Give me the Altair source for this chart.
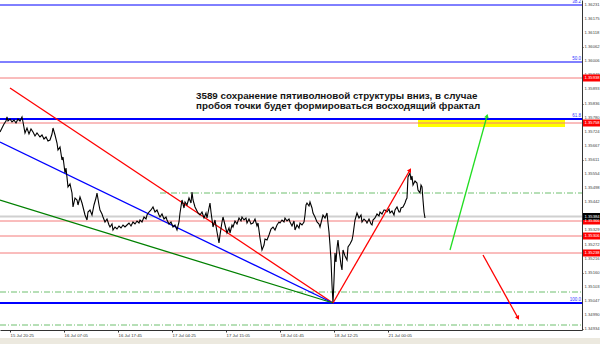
import altair as alt
import pandas as pd

# ---- price series (bar index, close) ----
bar = [0, 2, 4, 6, 7, 8, 10, 12, 14, 16, 18, 20, 22, 23, 25, 27, 29, 31, 33, 35, 37, 40, 42, 44, 46, 48, 50,
       52, 53, 55, 57, 58, 60, 62, 63, 65, 66, 68, 70, 72, 73, 75, 77, 78, 80, 82, 83, 85, 87, 88, 90, 92, 94,
       96, 97, 99, 100, 102, 103, 105, 107, 109, 110, 112, 113, 115, 117, 119, 121, 123, 125, 127, 129, 131,
       133, 135, 137, 139, 140, 142, 144, 146, 147, 149, 151, 153, 155, 157, 159, 160, 162, 164, 166, 167, 169,
       171, 173, 175, 177, 179, 180, 182, 184, 185, 187, 189, 191, 192, 193, 195, 197, 198, 200, 202, 204, 206,
       207, 209, 210, 211, 213, 215, 217, 219, 220, 222, 223, 225, 227, 229, 230, 232, 233, 235, 237, 239, 241,
       242, 244, 246, 247, 249, 251, 253, 255, 257, 258, 260, 262, 264, 265, 267, 269, 271, 273, 275, 277, 279,
       280, 282, 284, 285, 287, 289, 290, 292, 294, 295, 297, 299, 300, 302, 304, 305, 306, 307, 309, 310, 312,
       313, 315, 317, 319, 320, 322, 323, 325, 327, 328, 329, 330, 331, 332, 333, 334, 335, 336, 337, 338, 339,
       340, 341, 342, 343, 345, 347, 348, 350, 352, 353, 355, 357, 359, 361, 362, 364, 366, 367, 369, 371, 372,
       373, 375, 377, 379, 380, 382, 384, 385, 387, 389, 390, 392, 394, 395, 397, 399, 400, 401, 403, 405, 406,
       407, 408, 410, 411, 412, 413, 415, 417, 418, 420, 421, 422, 423, 424, 425]
close = [1.35722, 1.35738, 1.35754, 1.35766, 1.35782, 1.35766, 1.35774, 1.35762, 1.35770, 1.35758, 1.35774,
         1.35766, 1.35782, 1.35762, 1.35718, 1.35738, 1.35714, 1.35734, 1.35722, 1.35706, 1.35718, 1.35702,
         1.35710, 1.35694, 1.35702, 1.35686, 1.35690, 1.35714, 1.35738, 1.35710, 1.35678, 1.35650, 1.35662,
         1.35610, 1.35622, 1.35558, 1.35578, 1.35502, 1.35514, 1.35478, 1.35422, 1.35458, 1.35450, 1.35430,
         1.35462, 1.35438, 1.35422, 1.35390, 1.35370, 1.35402, 1.35410, 1.35390, 1.35430, 1.35458, 1.35478,
         1.35430, 1.35410, 1.35394, 1.35382, 1.35362, 1.35374, 1.35350, 1.35342, 1.35354, 1.35330, 1.35342,
         1.35334, 1.35346, 1.35338, 1.35350, 1.35342, 1.35350, 1.35358, 1.35346, 1.35362, 1.35354, 1.35366,
         1.35358, 1.35370, 1.35362, 1.35382, 1.35374, 1.35390, 1.35402, 1.35410, 1.35422, 1.35402, 1.35410,
         1.35390, 1.35382, 1.35394, 1.35374, 1.35382, 1.35370, 1.35354, 1.35362, 1.35342, 1.35350, 1.35330,
         1.35362, 1.35398, 1.35450, 1.35418, 1.35442, 1.35430, 1.35458, 1.35438, 1.35482, 1.35450, 1.35422,
         1.35406, 1.35398, 1.35390, 1.35402, 1.35378, 1.35398, 1.35378, 1.35418, 1.35438, 1.35402, 1.35342,
         1.35370, 1.35322, 1.35278, 1.35310, 1.35362, 1.35382, 1.35350, 1.35318, 1.35338, 1.35318, 1.35350,
         1.35342, 1.35366, 1.35354, 1.35378, 1.35366, 1.35382, 1.35370, 1.35378, 1.35358, 1.35374, 1.35354,
         1.35358, 1.35374, 1.35346, 1.35358, 1.35298, 1.35250, 1.35270, 1.35294, 1.35290, 1.35310, 1.35334,
         1.35342, 1.35330, 1.35350, 1.35362, 1.35358, 1.35370, 1.35362, 1.35378, 1.35366, 1.35374, 1.35362,
         1.35346, 1.35366, 1.35330, 1.35350, 1.35338, 1.35358, 1.35350, 1.35362, 1.35390, 1.35430, 1.35438,
         1.35426, 1.35442, 1.35418, 1.35398, 1.35382, 1.35362, 1.35354, 1.35342, 1.35374, 1.35390, 1.35378,
         1.35398, 1.35358, 1.35322, 1.35270, 1.35210, 1.35110, 1.35038, 1.35130, 1.35238, 1.35202, 1.35258,
         1.35290, 1.35250, 1.35222, 1.35190, 1.35170, 1.35250, 1.35226, 1.35210, 1.35262, 1.35274, 1.35290,
         1.35310, 1.35370, 1.35398, 1.35378, 1.35390, 1.35362, 1.35374, 1.35366, 1.35358, 1.35374, 1.35354,
         1.35350, 1.35370, 1.35378, 1.35394, 1.35386, 1.35402, 1.35394, 1.35410, 1.35410, 1.35402, 1.35414,
         1.35398, 1.35406, 1.35390, 1.35410, 1.35422, 1.35402, 1.35402, 1.35418, 1.35422, 1.35438, 1.35450,
         1.35458, 1.35542, 1.35558, 1.35530, 1.35546, 1.35510, 1.35526, 1.35518, 1.35490, 1.35478, 1.35510,
         1.35502, 1.35450, 1.35402, 1.35378]

# ---- axis labels ----
date_bars = [10, 37, 64, 91, 118, 145, 172, 199, 226, 253, 280, 307, 334, 361, 388, 415]
date_labels = ["15 Jul 20:25", "16 Jul 01:45", "16 Jul 07:05", "16 Jul 12:25", "16 Jul 17:45",
               "16 Jul 23:05", "17 Jul 04:25", "17 Jul 09:45", "17 Jul 15:05", "17 Jul 20:25",
               "18 Jul 01:45", "18 Jul 07:05", "18 Jul 12:25", "18 Jul 17:45", "21 Jul 00:05",
               "21 Jul 05:25"]
price_ticks = [1.36231, 1.36175, 1.36118, 1.36062, 1.36006, 1.35949, 1.35893, 1.35836, 1.35780, 1.35724,
               1.35667, 1.35611, 1.35554, 1.35498, 1.35442, 1.35385, 1.35329, 1.35272, 1.35216, 1.35160,
               1.35103, 1.35047, 1.34990, 1.34934]

# ---- horizontal levels ----
fib_prices = [1.36230, 1.36002, 1.35774, 1.35038]
fib_names = ["38.2", "50.0", "61.8", "100.0"]
red_levels = [1.35938, 1.35758, 1.35366, 1.35306, 1.35238]
bid_level = [1.35384]
dashdot_levels = [1.35478, 1.35082, 1.34950]
dashdot_from = [160, 0, 0]

# ---- trend lines / arrows (start bar, start price, end bar, end price) ----
trend_x1 = [10, 0, 0]
trend_y1 = [1.35898, 1.35682, 1.35450]
trend_x2 = [333, 333, 333]
trend_y2 = [1.35038, 1.35038, 1.35038]
trend_col = ["#ff0000", "#0000ff", "#008000"]

arrow_x1 = [333, 450, 483]
arrow_y1 = [1.35038, 1.35250, 1.35230]
arrow_x2 = [410, 487, 518]
arrow_y2 = [1.35570, 1.35786, 1.34978]
arrow_col = ["#ff0000", "#22dd22", "#ff0000"]
arrow_ang = [30, 15, 151]

note_lines = ["3589 сохранение пятиволновой структуры вниз, в случае",
              "пробоя точки будет формироваться восходящий фрактал"]
note_bar = [196, 196]
note_price = [1.35866, 1.35828]

box_x1, box_x2 = 583, 600
yellow = pd.DataFrame({"x": [418], "x2": [565], "y": [1.35770], "y2": [1.35742]})

XS = alt.Scale(domain=[0, 582], nice=False, zero=False)
YS = alt.Scale(domain=[1.3493, 1.3625], nice=False, zero=False)

price = pd.DataFrame({"bar": bar, "close": close})
ticks = pd.DataFrame({"p": price_ticks})
ticks["lab"] = ticks["p"].map(lambda v: f"{v:.5f}")
fib = pd.DataFrame({"p": fib_prices, "name": fib_names, "w": [1, 1, 2, 2]})
red = pd.DataFrame({"p": red_levels})
bid = pd.DataFrame({"p": bid_level})
dd = pd.DataFrame({"p": dashdot_levels, "x0": dashdot_from, "x1": [582] * 3})
trend = pd.DataFrame({"x": trend_x1, "y": trend_y1, "x2": trend_x2, "y2": trend_y2, "c": trend_col})
arrows = pd.DataFrame({"x": arrow_x1, "y": arrow_y1, "x2": arrow_x2, "y2": arrow_y2, "c": arrow_col,
                       "a": arrow_ang})
notes = pd.DataFrame({"t": note_lines, "x": note_bar, "y": note_price})
boxes = pd.DataFrame({"p": red_levels + bid_level,
                      "c": ["#ff0000"] * len(red_levels) + ["#000000"] * len(bid_level)})
boxes["lab"] = boxes["p"].map(lambda v: f"{v:.5f}")

label_expr = ("[" + ",".join(f"'{s}'" for s in date_labels) + "][indexof(["
              + ",".join(str(v) for v in date_bars) + "], datum.value)]")

base_line = alt.Chart(price).mark_line(color="#000000", strokeWidth=1.1, interpolate="linear").encode(
    x=alt.X("bar:Q", scale=XS,
            axis=alt.Axis(values=date_bars, labelExpr=label_expr, title=None, grid=False, tickSize=2,
                          labelFontSize=4.3, labelAlign="left", labelPadding=1, labelColor="#333",
                          domainColor="#333", tickColor="#333", labelOverlap=False, labelFlush=False,
                          labelBound=False, labelFont="Liberation Sans")),
    y=alt.Y("close:Q", scale=YS,
            axis=alt.Axis(orient="right", values=price_ticks, labels=False, title=None, grid=False,
                          tickSize=1, domainColor="#333", tickColor="#333")),
)

tick_text = alt.Chart(ticks).mark_text(color="#444", fontSize=4.2, align="left", baseline="middle",
                                       font="Liberation Sans").encode(
    x=alt.value(584.5), y=alt.Y("p:Q", scale=YS), text="lab:N")

ylw = alt.Chart(yellow).mark_rect(color="#ffff00").encode(
    x=alt.X("x:Q", scale=XS), x2="x2:Q", y=alt.Y("y:Q", scale=YS), y2="y2:Q")

fib_rules = alt.Chart(fib).mark_rule(color="#0000ff").encode(
    y=alt.Y("p:Q", scale=YS), strokeWidth=alt.StrokeWidth("w:Q", scale=None))
fib_text = alt.Chart(fib).mark_text(color="#3333ff", fontSize=4.5, align="right", baseline="bottom",
                                    dy=-1, font="Liberation Sans").encode(
    x=alt.value(581), y=alt.Y("p:Q", scale=YS), text="name:N")

red_rules = alt.Chart(red).mark_rule(color="#f47a7a", strokeWidth=1).encode(y=alt.Y("p:Q", scale=YS))
bid_rule = alt.Chart(bid).mark_rule(color="#d0d0d0", strokeWidth=2).encode(y=alt.Y("p:Q", scale=YS))
dd_rules = alt.Chart(dd).mark_rule(color="#6fbf6f", strokeWidth=1, strokeDash=[6, 2, 1, 2]).encode(
    x=alt.X("x0:Q", scale=XS), x2="x1:Q", y=alt.Y("p:Q", scale=YS))

trend_rules = alt.Chart(trend).mark_rule(strokeWidth=1.3).encode(
    x=alt.X("x:Q", scale=XS), y=alt.Y("y:Q", scale=YS), x2="x2:Q", y2="y2:Q",
    color=alt.Color("c:N", scale=None))
arrow_rules = alt.Chart(arrows).mark_rule(strokeWidth=1.3).encode(
    x=alt.X("x:Q", scale=XS), y=alt.Y("y:Q", scale=YS), x2="x2:Q", y2="y2:Q",
    color=alt.Color("c:N", scale=None))
arrow_heads = alt.Chart(arrows).mark_point(shape="triangle-up", filled=True, size=22, opacity=1).encode(
    x=alt.X("x2:Q", scale=XS), y=alt.Y("y2:Q", scale=YS), color=alt.Color("c:N", scale=None),
    angle=alt.Angle("a:Q", scale=None))

note = alt.Chart(notes).mark_text(font="Liberation Sans", fontWeight="bold", fontSize=9.8, align="left",
                                  baseline="middle", color="#141414").encode(
    x=alt.X("x:Q", scale=XS), y=alt.Y("y:Q", scale=YS), text="t:N")

box_rect = alt.Chart(boxes).transform_calculate(
    lo="datum.p - 0.00014", hi="datum.p + 0.00014").mark_rect().encode(
    x=alt.value(box_x1), x2=alt.value(box_x2), y=alt.Y("lo:Q", scale=YS), y2="hi:Q",
    color=alt.Color("c:N", scale=None))
box_text = alt.Chart(boxes).mark_text(color="#ffffff", fontSize=4.2, align="left", baseline="middle",
                                      font="Liberation Sans").encode(
    x=alt.value(584.5), y=alt.Y("p:Q", scale=YS), text="lab:N")

strip = alt.Chart(pd.DataFrame({"k": [0]})).mark_rect(color="#ece9df").encode(
    x=alt.value(0), x2=alt.value(600), y=alt.value(338), y2=alt.value(344))

chart = alt.layer(
    ylw, bid_rule, red_rules, dd_rules, fib_rules, fib_text, trend_rules, base_line, tick_text,
    arrow_rules, arrow_heads, note, box_rect, box_text, strip
).properties(
    width=582, height=330, autosize="none",
    padding={"left": 0, "top": 0, "right": 18, "bottom": 14},
    background="#ffffff",
).configure_view(stroke=None)

chart.save("out.html", embed_options={"renderer": "svg", "actions": False})
